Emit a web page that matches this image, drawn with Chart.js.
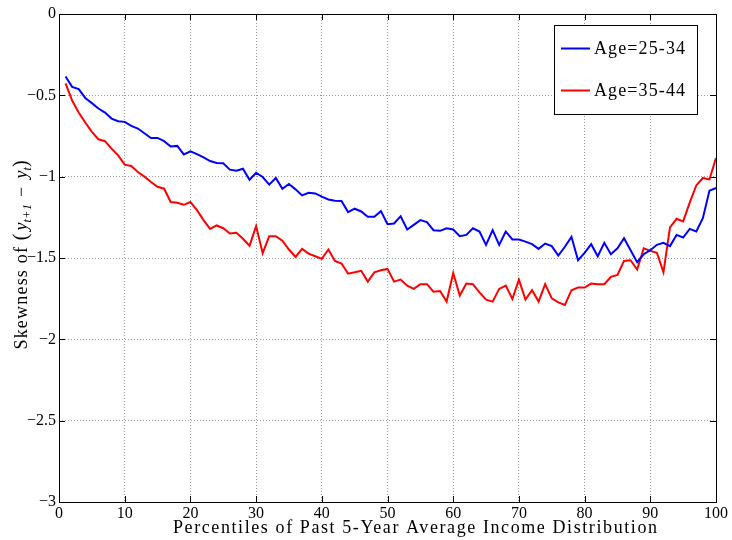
<!DOCTYPE html>
<html>
<head>
<meta charset="utf-8">
<script src="https://cdn.jsdelivr.net/npm/chart.js@4/dist/chart.umd.min.js"></script>
<style>
  html, body { margin: 0; padding: 0; background: #fff; }
  #wrap { width: 732px; height: 540px; }
</style>
</head>
<body>
<div id="wrap"><canvas id="c" width="732" height="540"></canvas></div>
<script>
// Percentile positions of past 5-year average income
const percentiles = Array.from({length: 100}, (_, i) => i + 1);

// Skewness of one-year income growth, age 25-34
const age2534 = [
  -0.384, -0.448, -0.462, -0.516, -0.548, -0.581, -0.606, -0.643, -0.659, -0.663,
  -0.688, -0.704, -0.733, -0.762, -0.762, -0.782, -0.815, -0.811, -0.863, -0.844,
  -0.861, -0.881, -0.904, -0.916, -0.918, -0.957, -0.963, -0.951, -1.019, -0.976,
  -1.002, -1.049, -1.008, -1.074, -1.045, -1.078, -1.115, -1.099, -1.103, -1.123,
  -1.140, -1.148, -1.150, -1.218, -1.197, -1.214, -1.247, -1.247, -1.212, -1.292,
  -1.288, -1.243, -1.325, -1.296, -1.267, -1.279, -1.329, -1.333, -1.317, -1.325,
  -1.366, -1.358, -1.317, -1.337, -1.419, -1.329, -1.419, -1.337, -1.386, -1.386,
  -1.399, -1.415, -1.444, -1.411, -1.427, -1.485, -1.431, -1.370, -1.514, -1.468,
  -1.415, -1.489, -1.407, -1.477, -1.440, -1.378, -1.452, -1.526, -1.477, -1.452,
  -1.419, -1.407, -1.427, -1.358, -1.374, -1.321, -1.337, -1.255, -1.086, -1.070
];

// Skewness of one-year income growth, age 35-44
const age3544 = [
  -0.427, -0.532, -0.606, -0.667, -0.725, -0.770, -0.782, -0.828, -0.869, -0.926,
  -0.934, -0.971, -1.000, -1.033, -1.062, -1.074, -1.156, -1.160, -1.173, -1.156,
  -1.206, -1.267, -1.321, -1.300, -1.317, -1.349, -1.345, -1.382, -1.425, -1.304,
  -1.470, -1.366, -1.366, -1.394, -1.448, -1.493, -1.444, -1.473, -1.489, -1.505,
  -1.448, -1.518, -1.534, -1.596, -1.588, -1.579, -1.645, -1.588, -1.575, -1.567,
  -1.645, -1.633, -1.670, -1.690, -1.661, -1.661, -1.707, -1.703, -1.768, -1.592,
  -1.731, -1.657, -1.661, -1.711, -1.756, -1.768, -1.690, -1.670, -1.752, -1.633,
  -1.756, -1.698, -1.768, -1.661, -1.748, -1.773, -1.789, -1.698, -1.682, -1.682,
  -1.657, -1.661, -1.661, -1.616, -1.604, -1.518, -1.514, -1.571, -1.440, -1.456,
  -1.468, -1.588, -1.312, -1.259, -1.275, -1.160, -1.054, -1.008, -1.017, -0.885
];

const seriesLabels = ['Age=25-34', 'Age=35-44'];
const seriesColors = ['#0000ff', '#ff0000'];
const xTitle = 'Percentiles of Past 5-Year Average Income Distribution';

const TICK_FONT = '16px "Liberation Serif", serif';
const TEXT_FAMILY = '"Liberation Serif", serif';

function fmtTick(v) {
  if (v === 0) return '0';
  const s = String(Math.abs(Math.round(v * 10) / 10));
  return (v < 0 ? '\u2212' : '') + s;
}

// draws text stretched with letter spacing so it spans the given width
function spacedText(ctx, text, x, y, width, align) {
  ctx.letterSpacing = '0px';
  const w0 = ctx.measureText(text).width;
  const sp = (width - w0) / Math.max(1, text.length - 1);
  ctx.letterSpacing = sp + 'px';
  const w = w0 + sp * (text.length - 1);
  let sx = x;
  if (align === 'center') sx = x - w / 2;
  ctx.textAlign = 'left';
  ctx.fillText(text, sx, y);
  ctx.letterSpacing = '0px';
}

const axesBox = {
  id: 'axesBox',
  afterDatasetsDraw(chart) {
    const {ctx, chartArea: a, scales: {x, y}} = chart;
    ctx.save();
    // inward tick marks on all four sides
    ctx.strokeStyle = '#000';
    ctx.lineWidth = 1;
    ctx.beginPath();
    const tl = 6;
    x.ticks.forEach(t => {
      const px = Math.round(x.getPixelForValue(t.value)) + 0.5;
      ctx.moveTo(px, a.bottom); ctx.lineTo(px, a.bottom - tl);
      ctx.moveTo(px, a.top); ctx.lineTo(px, a.top + tl);
    });
    y.ticks.forEach(t => {
      const py = Math.round(y.getPixelForValue(t.value)) + 0.5;
      ctx.moveTo(a.left, py); ctx.lineTo(a.left + tl, py);
      ctx.moveTo(a.right, py); ctx.lineTo(a.right - tl, py);
    });
    ctx.stroke();
    // axes frame
    ctx.strokeRect(Math.round(a.left) + 0.5, Math.round(a.top) + 0.5,
                   Math.round(a.right - a.left), Math.round(a.bottom - a.top));

    // x axis title
    ctx.fillStyle = '#000';
    ctx.font = '18px ' + TEXT_FAMILY;
    ctx.textBaseline = 'alphabetic';
    spacedText(ctx, xTitle, 415, 533, 484, 'center');

    // y axis title with math subscripts
    ctx.save();
    ctx.translate(27, 255);
    ctx.rotate(-Math.PI / 2);
    const parts = [
      {t: 'Skewness of ', f: '18px ' + TEXT_FAMILY, dy: 0, sp: 1.2},
      {t: '(', f: '20px ' + TEXT_FAMILY, dy: 0, sp: 3},
      {t: 'y', f: 'italic 18px ' + TEXT_FAMILY, dy: 0, sp: 0},
      {t: 't+1', f: 'italic 12px ' + TEXT_FAMILY, dy: 4, sp: 0.5},
      {t: ' \u2212 ', f: '18px ' + TEXT_FAMILY, dy: 0, sp: 2},
      {t: 'y', f: 'italic 18px ' + TEXT_FAMILY, dy: 0, sp: 0},
      {t: 't', f: 'italic 12px ' + TEXT_FAMILY, dy: 4, sp: 0},
      {t: ')', f: '20px ' + TEXT_FAMILY, dy: 0, sp: 0}
    ];
    let total = 0;
    parts.forEach(p => {
      ctx.font = p.f;
      ctx.letterSpacing = p.sp + 'px';
      p.w = ctx.measureText(p.t).width;
      total += p.w;
    });
    let cx = -total / 2;
    ctx.textAlign = 'left';
    parts.forEach(p => {
      ctx.font = p.f;
      ctx.letterSpacing = p.sp + 'px';
      ctx.fillText(p.t, cx, p.dy);
      cx += p.w;
    });
    ctx.letterSpacing = '0px';
    ctx.restore();

    // legend box
    const lx = 554, ly = 25, lw = 143, lh = 89;
    ctx.fillStyle = '#fff';
    ctx.fillRect(lx, ly, lw, lh);
    ctx.strokeStyle = '#000';
    ctx.lineWidth = 1;
    ctx.strokeRect(lx + 0.5, ly + 0.5, lw, lh);
    const rowY = [48.5, 90.5];
    chart.data.datasets.forEach((ds, i) => {
      ctx.strokeStyle = ds.borderColor;
      ctx.lineWidth = 2;
      ctx.beginPath();
      ctx.moveTo(561, rowY[i]);
      ctx.lineTo(590, rowY[i]);
      ctx.stroke();
      ctx.fillStyle = '#000';
      ctx.font = '18px ' + TEXT_FAMILY;
      ctx.textBaseline = 'alphabetic';
      spacedText(ctx, ds.label, 594, rowY[i] + 5, 91, 'left');
    });
    ctx.restore();
  }
};

new Chart(document.getElementById('c'), {
  type: 'line',
  data: {
    datasets: [age2534, age3544].map((vals, i) => ({
      label: seriesLabels[i],
      data: percentiles.map((p, j) => ({x: p, y: vals[j]})),
      borderColor: seriesColors[i],
      backgroundColor: seriesColors[i],
      borderWidth: 2,
      pointRadius: 0,
      tension: 0,
      fill: false
    }))
  },
  plugins: [axesBox],
  options: {
    responsive: false,
    animation: false,
    layout: {padding: {left: 0, right: 16, top: 14, bottom: 0}},
    plugins: {legend: {display: false}, tooltip: {enabled: false}},
    scales: {
      x: {
        type: 'linear',
        min: 0, max: 100,
        afterFit(s) { s.height = 38; },
        ticks: {stepSize: 10, color: '#000', font: {family: '"Liberation Serif", serif', size: 16},
                padding: 2, maxRotation: 0, autoSkip: false, callback: v => fmtTick(v)},
        grid: {color: '#9a9a9a', lineWidth: 1, drawTicks: false},
        border: {display: false, dash: [1, 2]}
      },
      y: {
        min: -3, max: 0,
        afterFit(s) { s.width = 59; },
        ticks: {stepSize: 0.5, color: '#000', font: {family: '"Liberation Serif", serif', size: 16},
                padding: 3, autoSkip: false, callback: v => fmtTick(v)},
        grid: {color: '#9a9a9a', lineWidth: 1, drawTicks: false},
        border: {display: false, dash: [1, 2]}
      }
    }
  }
});
</script>
</body>
</html>
